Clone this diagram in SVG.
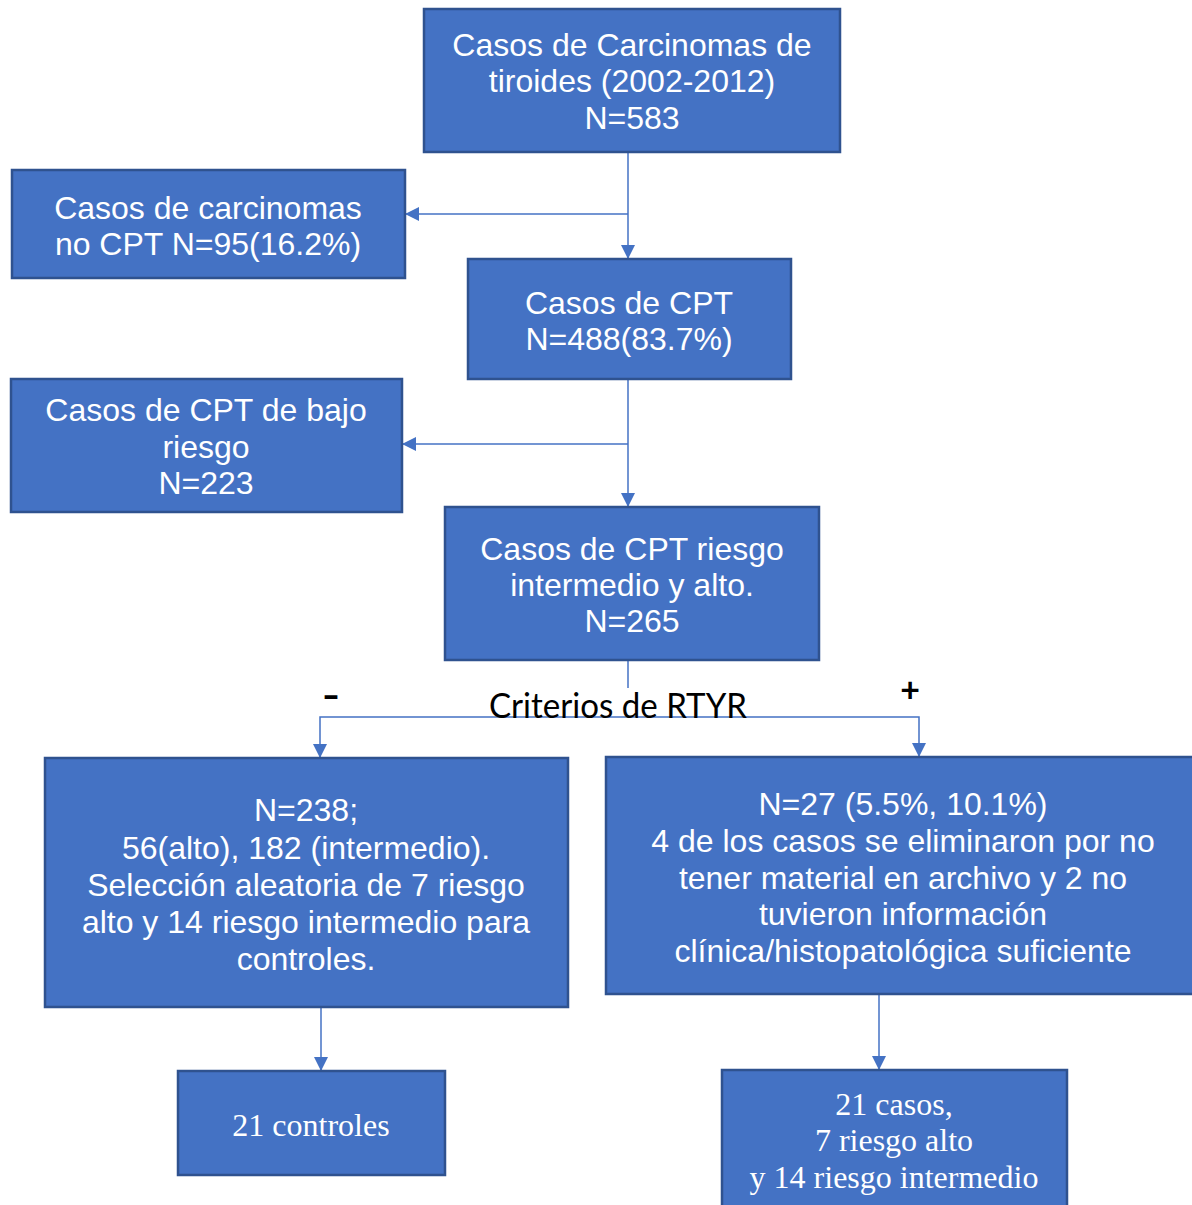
<svg xmlns="http://www.w3.org/2000/svg" width="1192" height="1205" viewBox="0 0 1192 1205">
<defs>
<marker id="ah" markerWidth="14" markerHeight="14" refX="14" refY="7" orient="auto" markerUnits="userSpaceOnUse">
<path d="M0,0 L14,7 L0,14 Z" fill="#4472C4"/>
</marker>
<style>
.box{fill:#4472C4;stroke:#2F528F;stroke-width:2.5}
.t{font-family:"Liberation Sans",Arial,sans-serif;font-size:32px;fill:#fff;text-anchor:middle}
.tr{font-family:"Liberation Serif","Times New Roman",serif;font-size:32px;fill:#fff;text-anchor:middle}
.c{fill:none;stroke:#4472C4;stroke-width:1.5}
.k{font-family:Lato,"Liberation Sans",sans-serif;fill:#000}
</style>
</defs>
<rect width="1192" height="1205" fill="#fff"/>
<g id="connectors">
<path class="c" d="M628,152 V259" marker-end="url(#ah)"/>
<path class="c" d="M628,214 H405" marker-end="url(#ah)"/>
<path class="c" d="M628,379 V507" marker-end="url(#ah)"/>
<path class="c" d="M628,444 H402" marker-end="url(#ah)"/>
<path class="c" d="M628,660 V688"/>
<path class="c" d="M628,717 H320 V758" marker-end="url(#ah)"/>
<path class="c" d="M628,717 H919 V757" marker-end="url(#ah)"/>
<path class="c" d="M321,1007 V1071" marker-end="url(#ah)"/>
<path class="c" d="M879,994 V1070" marker-end="url(#ah)"/>
</g>
<g id="n1"><rect class="box" x="424" y="9" width="416" height="143"/>
<text class="t" x="632" y="56">Casos de Carcinomas de</text>
<text class="t" x="632" y="92">tiroides (2002-2012)</text>
<text class="t" x="632" y="129">N=583</text></g>
<g id="n2"><rect class="box" x="12" y="170" width="393" height="108"/>
<text class="t" x="208" y="219">Casos de carcinomas</text>
<text class="t" x="208" y="255">no CPT N=95(16.2%)</text></g>
<g id="n3"><rect class="box" x="468" y="259" width="323" height="120"/>
<text class="t" x="629" y="314">Casos de CPT</text>
<text class="t" x="629" y="350">N=488(83.7%)</text></g>
<g id="n4"><rect class="box" x="11" y="379" width="391" height="133"/>
<text class="t" x="206" y="421">Casos de CPT de bajo</text>
<text class="t" x="206" y="458">riesgo</text>
<text class="t" x="206" y="494">N=223</text></g>
<g id="n5"><rect class="box" x="445" y="507" width="374" height="153"/>
<text class="t" x="632" y="560">Casos de CPT riesgo</text>
<text class="t" x="632" y="596">intermedio y alto.</text>
<text class="t" x="632" y="632">N=265</text></g>
<g id="label">
<text class="k" x="618" y="718" font-size="34" text-anchor="middle" textLength="258" lengthAdjust="spacingAndGlyphs">Criterios de RTYR</text>
<text class="k" x="331" y="707" font-size="34" font-weight="900" text-anchor="middle" textLength="18" lengthAdjust="spacingAndGlyphs">-</text>
<text class="k" x="910" y="702" font-size="34" font-weight="bold" text-anchor="middle">+</text>
</g>
<g id="n6"><rect class="box" x="45" y="758" width="523" height="249"/>
<text class="t" x="306" y="821">N=238;</text>
<text class="t" x="306" y="859">56(alto), 182 (intermedio).</text>
<text class="t" x="306" y="896">Selección aleatoria de 7 riesgo</text>
<text class="t" x="306" y="933">alto y 14 riesgo intermedio para</text>
<text class="t" x="306" y="970">controles.</text></g>
<g id="n7"><rect class="box" x="606" y="757" width="590" height="237"/>
<text class="t" x="903" y="815">N=27 (5.5%, 10.1%)</text>
<text class="t" x="903" y="852">4 de los casos se eliminaron por no</text>
<text class="t" x="903" y="889">tener material en archivo y 2 no</text>
<text class="t" x="903" y="925">tuvieron información</text>
<text class="t" x="903" y="962">clínica/histopatológica suficiente</text></g>
<g id="n8"><rect class="box" x="178" y="1071" width="267" height="104"/>
<text class="tr" x="311" y="1136">21 controles</text></g>
<g id="n9"><rect class="box" x="722" y="1070" width="345" height="145"/>
<text class="tr" x="894" y="1115">21 casos,</text>
<text class="tr" x="894" y="1151">7 riesgo alto</text>
<text class="tr" x="894" y="1188">y 14 riesgo intermedio</text></g>
</svg>
